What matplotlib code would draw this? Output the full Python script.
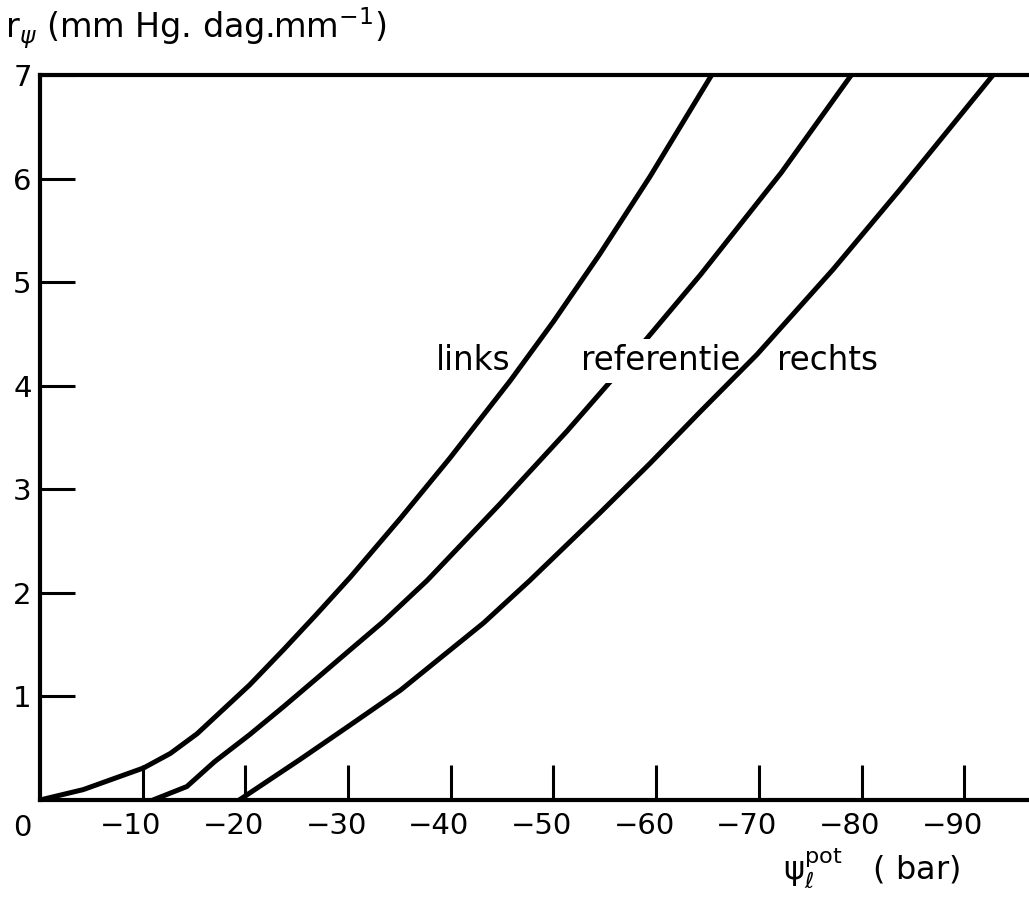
import matplotlib
matplotlib.use("Agg")
import matplotlib.pyplot as plt
import matplotlib.transforms as mtransforms

links_x = [0, -4.2, -10.1, -12.7, -15.3, -20.4, -23.7, -26.9, -30.2, -35.1, -39.9, -45.8, -50.0, -54.5, -59.4, -65.4]
links_y = [0, 0.10, 0.31, 0.45, 0.64, 1.11, 1.45, 1.79, 2.15, 2.72, 3.30, 4.05, 4.62, 5.27, 6.02, 7.0]

ref_x = [-11.0, -14.3, -17.0, -20.4, -23.7, -26.9, -30.2, -33.4, -37.7, -44.8, -51.3, -56.5, -64.3, -72.2, -79.0]
ref_y = [0, 0.13, 0.37, 0.63, 0.90, 1.17, 1.45, 1.72, 2.12, 2.86, 3.56, 4.15, 5.07, 6.06, 7.0]

rechts_x = [-19.4, -25.3, -30.0, -35.1, -43.2, -47.7, -54.5, -59.4, -64.3, -69.8, -77.2, -83.7, -92.8]
rechts_y = [0, 0.39, 0.71, 1.06, 1.71, 2.12, 2.77, 3.25, 3.75, 4.30, 5.12, 5.89, 7.0]

xticks = [-10, -20, -30, -40, -50, -60, -70, -80, -90]
yticks = [1, 2, 3, 4, 5, 6, 7]

labels = ["links", "referentie", "rechts"]
label_x = [-42.2, -60.4, -76.7]
label_y = 4.15

fs = 21
fig = plt.figure(figsize=(10.29, 9.02), dpi=100)
ax = fig.add_axes([40 / 1029, 102 / 902, 1 - 40 / 1029, 725 / 902])

ax.plot(links_x, links_y, color="black", lw=3.6, solid_capstyle="round", solid_joinstyle="round", zorder=3)
ax.plot(ref_x, ref_y, color="black", lw=3.6, solid_capstyle="round", solid_joinstyle="round", zorder=1)
ax.plot(rechts_x, rechts_y, color="black", lw=3.6, solid_capstyle="round", solid_joinstyle="round", zorder=3)

for i in range(len(labels)):
    bb = None
    if labels[i] == "referentie":
        # de referentie-curve is onderbroken achter de tekst
        bb = dict(facecolor="white", edgecolor="none", pad=4)
    ax.text(label_x[i], label_y, labels[i], fontsize=23.5, ha="center", va="baseline",
            bbox=bb, zorder=2)

ax.set_xlim(0, -96.3)
ax.set_ylim(0, 7)
ax.set_xticks(xticks)
ax.set_xticklabels(["\u2212%d" % abs(v) for v in xticks])
ax.set_yticks(yticks)
ax.set_yticklabels([str(v) for v in yticks])
ax.tick_params(axis="x", direction="in", length=25, width=2.2, labelsize=fs, pad=9)
ax.tick_params(axis="y", direction="in", length=25, width=2.2, labelsize=fs, pad=6)

# minteken steekt links uit, cijfers onder het streepje
offset = mtransforms.ScaledTranslation(-0.12, 0, fig.dpi_scale_trans)
for lab in ax.get_xticklabels():
    lab.set_transform(lab.get_transform() + offset)

ax.annotate("0", xy=(0, 0), xytext=(-13, -10), textcoords="offset points",
            ha="center", va="top", fontsize=fs)

for s in ["left", "top", "bottom"]:
    ax.spines[s].set_linewidth(3)
ax.spines["right"].set_visible(False)

fig.text(5 / 1029, (902 - 38) / 902, r"r$_\psi$ (mm Hg. dag.mm$^{-1}$)", fontsize=24,
         ha="left", va="baseline")
fig.text(783 / 1029, (902 - 880) / 902, "\u03c8" + r"$_{\ell}^{\mathrm{pot}}$   ( bar)", fontsize=23,
         ha="left", va="baseline")

fig.savefig("out.png", dpi=100)
